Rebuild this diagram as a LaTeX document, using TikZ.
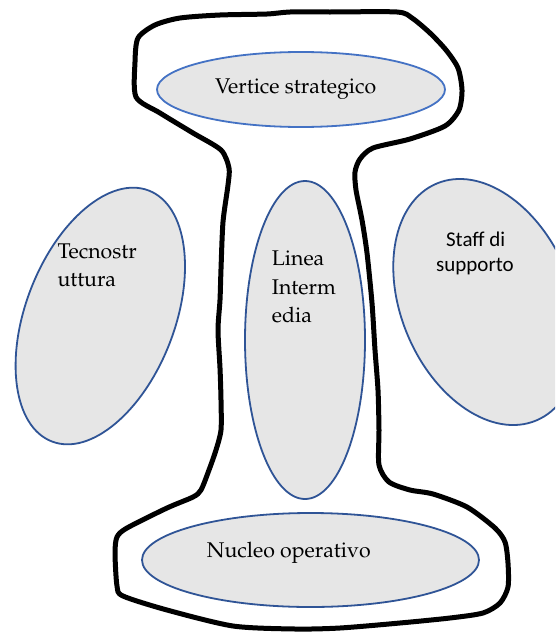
\documentclass[tikz,border=0pt]{standalone}
\usepackage{fontspec}
\usepackage[T1,TU]{fontenc}
\usetikzlibrary{shapes.geometric}
\newfontfamily\staffsans{Carlito}
\newcommand\palfont{\fontencoding{T1}\fontfamily{ppl}\selectfont}
\definecolor{blobfill}{HTML}{E6E6E6}
\definecolor{topblue}{HTML}{4472C4}
\definecolor{unitblue}{HTML}{2F5496}
\tikzset{
  unit/.style={ellipse, draw=unitblue, fill=blobfill, line width=1.8pt, inner sep=0pt, outer sep=0pt},
  serifl/.style={font=\palfont\fontsize{21.3}{26}\selectfont, text=black, inner sep=0pt, anchor=base west},
  sansl/.style={font=\staffsans\fontsize{21}{25}\selectfont, text=black, inner sep=0pt, anchor=base},
}
\begin{document}
\begin{tikzpicture}[x=1pt,y=-1pt]
\useasboundingbox (0,0) rectangle (555,632);
\clip (0,0) rectangle (555,632);
\fill[white] (0,0) rectangle (555,632);

% hand-drawn outline around the central column
\draw[line width=5pt, line join=round, black]
  plot[smooth cycle, tension=0.45] coordinates {
    (135,62) (138,38) (155,25) (180,18) (220,15) (267,14) (290,12) (330,12)
    (397,12) (412,18) (430,33) (446,50) (458,68) (462,90) (459,110) (445,126)
    (410,139) (373,148) (360,159) (355,172) (356,190) (362,220) (367,253)
    (372,303) (375,350) (378,390) (379,430) (379,465) (389,482) (410,490)
    (433,494) (467,507) (495,528) (505,542) (508,563) (508,587) (500,603)
    (483,613) (450,618) (400,623) (340,628) (295,629) (233,626) (167,610)
    (123,596) (117,586) (115,553) (117,537) (127,528) (167,508) (193,497)
    (201,490) (209,470) (216,450) (221,430) (221,400) (220,368) (218,330)
    (220,300) (221,269) (223,222) (228,185) (229,168) (221,150) (193,133)
    (160,113) (136,97)
  };

% organisational units
\node[unit, draw=topblue, minimum width=288pt, minimum height=75pt] (vert) at (301,89.5) {};
\node[unit, minimum width=337pt, minimum height=94pt] (nucl) at (310.5,560) {};
\node[unit, minimum width=120pt, minimum height=318pt] (lin) at (305,340) {};
\node[unit, minimum width=149pt, minimum height=269pt, rotate=-21.1] (tec) at (100.3,316) {};
\node[unit, minimum width=171pt, minimum height=257pt, rotate=22.8] (staff) at (486.5,302) {};

% labels
\node[serifl] (vertT) at (215,93.3) {Vertice strategico};
\node[serifl] (nuclT) at (206.7,557) {Nucleo operativo};
\node[serifl] (tecA) at (57.3,258.3) {Tecnostr};
\node[serifl] (tecB) at (57.3,286.7) {uttura};
\node[serifl] (linA) at (271.7,265) {Linea};
\node[serifl] (linB) at (271.7,294) {Interm};
\node[serifl] (linC) at (271.7,322.7) {edia};
\node[sansl] (stA) at (475.7,246) {Staff di};
\node[sansl] (stB) at (475,271.7) {supporto};
\end{tikzpicture}
\end{document}
